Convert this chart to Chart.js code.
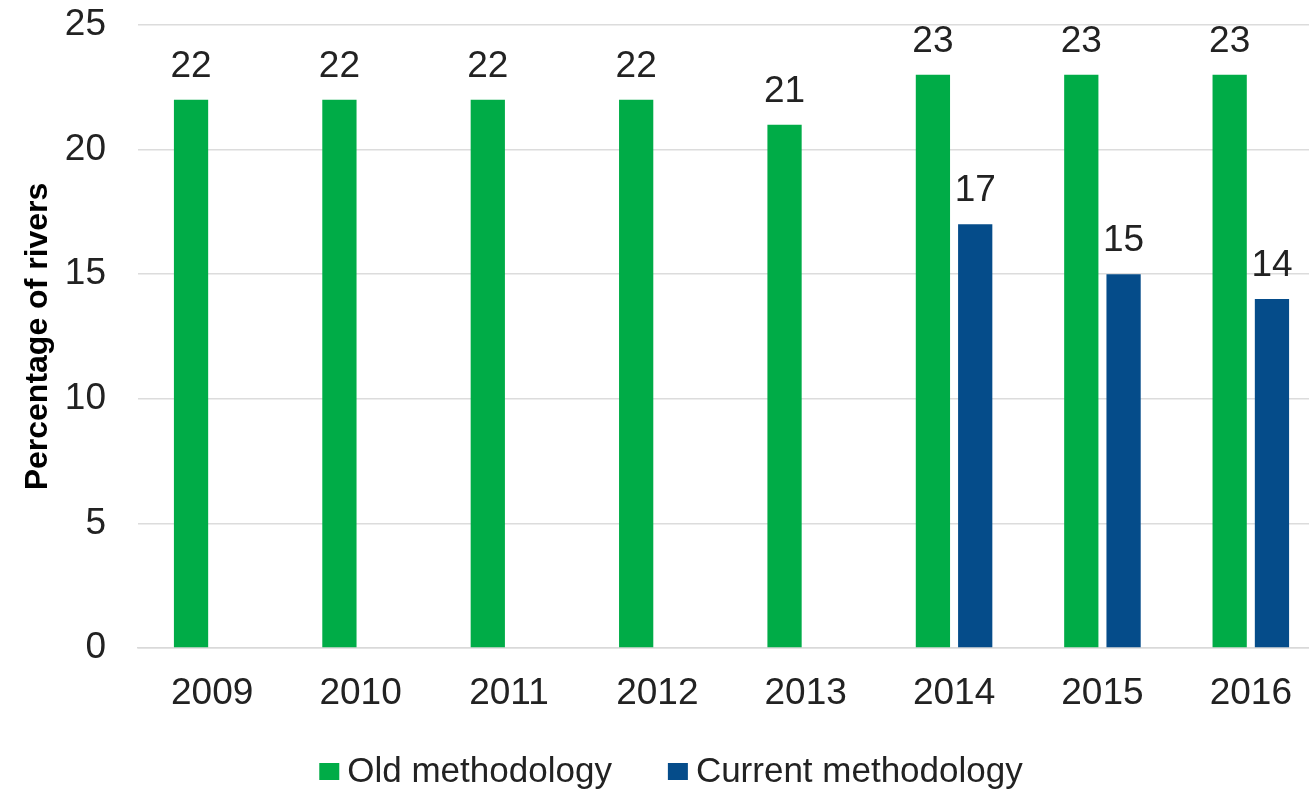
<!DOCTYPE html>
<html>
<head>
<meta charset="utf-8">
<script src="https://cdn.jsdelivr.net/npm/chart.js@4/dist/chart.umd.min.js"></script>
<style>
  html, body { margin: 0; padding: 0; background: #ffffff; overflow: hidden; }
  #wrap { width: 1309px; height: 791px; overflow: hidden; position: relative; }
  canvas { display: block; }
</style>
</head>
<body>
<div id="wrap"><canvas id="c" width="1326" height="791"></canvas></div>
<script>
const years = ['2009', '2010', '2011', '2012', '2013', '2014', '2015', '2016'];
const oldMethodology = [22, 22, 22, 22, 21, 23, 23, 23];
const currentMethodology = [null, null, null, null, null, 17, 15, 14];
const seriesNames = ['Old methodology', 'Current methodology'];
const seriesColors = ['#00AC47', '#054C8A'];
const yMin = 0, yMax = 25, yStep = 5;
const yTitle = 'Percentage of rivers';

const FONT = '"Liberation Sans", Arial, sans-serif';
const TEXT = '#222222';

const valueLabels = {
  id: 'valueLabels',
  afterDatasetsDraw(chart) {
    const ctx = chart.ctx;
    ctx.save();
    ctx.font = '37px ' + FONT;
    ctx.fillStyle = TEXT;
    ctx.textAlign = 'center';
    ctx.textBaseline = 'alphabetic';
    chart.data.datasets.forEach((ds, i) => {
      const meta = chart.getDatasetMeta(i);
      meta.data.forEach((el, j) => {
        const v = ds.data[j];
        if (v === null || v === undefined) return;
        ctx.fillText(String(v), el.x, el.y - 23);
      });
    });
    ctx.restore();
  }
};

const customLegend = {
  id: 'customLegend',
  afterDraw(chart) {
    const ctx = chart.ctx;
    ctx.save();
    ctx.font = '35px ' + FONT;
    ctx.textBaseline = 'alphabetic';
    ctx.textAlign = 'left';
    const box = 20, boxH = 17, gap = 8, itemGap = 56;
    const items = chart.data.datasets.map(d => ({ label: d.label, color: d.backgroundColor, w: ctx.measureText(d.label).width }));
    let total = 0;
    items.forEach((it, i) => { total += box + gap + it.w + (i < items.length - 1 ? itemGap : 0); });
    let x = 671 - total / 2;
    const baseline = 782;
    items.forEach(it => {
      ctx.fillStyle = it.color;
      ctx.fillRect(x, 763, box, boxH);
      ctx.fillStyle = TEXT;
      ctx.fillText(it.label, x + box + gap, baseline);
      x += box + gap + it.w + itemGap;
    });
    ctx.restore();
  }
};

new Chart(document.getElementById('c'), {
  type: 'bar',
  data: {
    labels: years,
    datasets: [
      { label: seriesNames[0], data: oldMethodology, backgroundColor: seriesColors[0], categoryPercentage: 0.57, barPercentage: 0.81 },
      { label: seriesNames[1], data: currentMethodology, backgroundColor: seriesColors[1], categoryPercentage: 0.57, barPercentage: 0.81 }
    ]
  },
  options: {
    responsive: false,
    animation: false,
    layout: { padding: { top: 0, left: 16, right: 1, bottom: 0 } },
    plugins: { legend: { display: false }, tooltip: { enabled: false } },
    scales: {
      x: {
        grid: { display: false, drawTicks: false },
        border: { display: true, color: '#d9d9d9', width: 1.5 },
        ticks: { font: { family: FONT, size: 37 }, color: TEXT, padding: 24, maxRotation: 0 },
        afterFit(scale) { scale.height = 143; }
      },
      y: {
        min: yMin, max: yMax,
        grid: { color: '#dcdcdc', lineWidth: 1.5, drawTicks: true, tickLength: 32, tickColor: 'rgba(0,0,0,0)' },
        border: { display: false },
        ticks: { stepSize: yStep, font: { family: FONT, size: 37, lineHeight: 1.35 }, color: TEXT, padding: 0 },
        title: { display: true, text: yTitle, font: { family: FONT, size: 32, weight: 'bold' }, color: '#000000', padding: { top: 3, bottom: 0 } },
        afterFit(scale) { scale.width = 122; }
      }
    }
  },
  plugins: [valueLabels, customLegend]
});
</script>
</body>
</html>
